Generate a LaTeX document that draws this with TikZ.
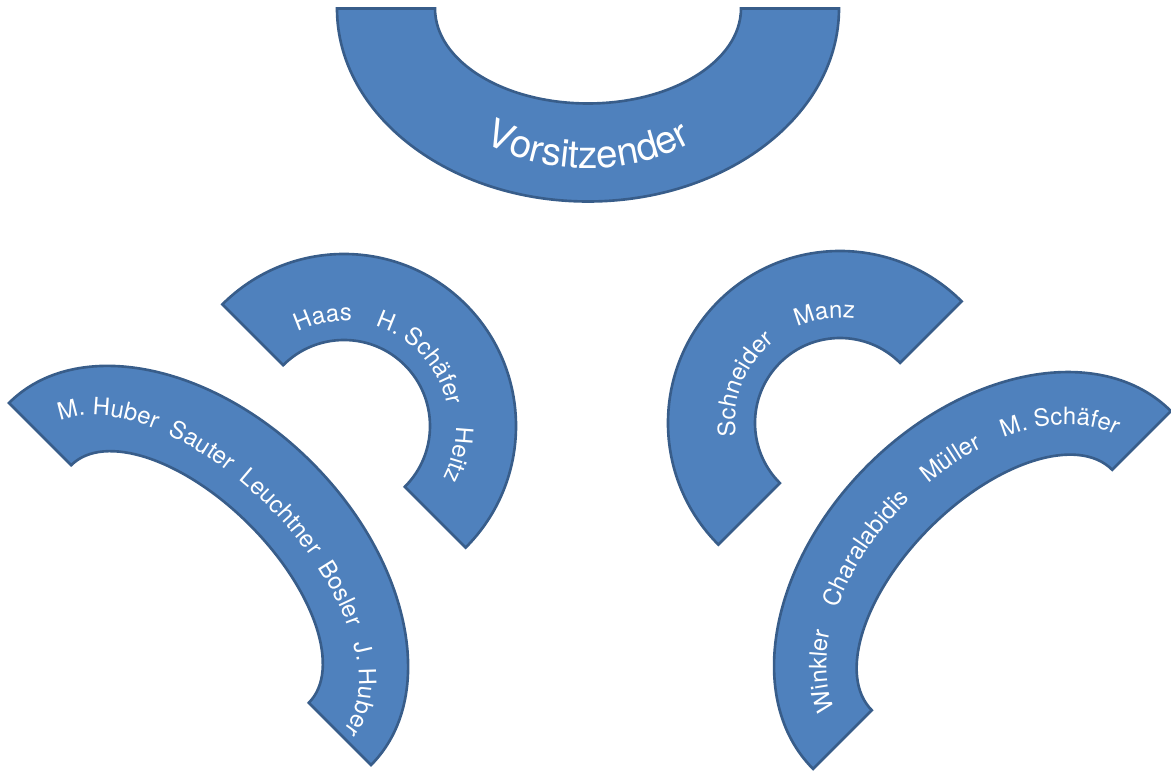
\documentclass[tikz,border=0pt]{standalone}
\usepackage{fontspec}
\setmainfont{TeX Gyre Heros}
\usetikzlibrary{decorations.text}
\definecolor{arcfill}{HTML}{4F81BD}
\definecolor{arcline}{HTML}{385D8A}
\newcommand\namefont{\fontsize{13.6pt}{16pt}\selectfont}
\newcommand\headfont{\fontsize{22pt}{26pt}\selectfont}

\begin{document}
\begin{tikzpicture}[x=0.02cm,y=0.02cm,
  blockarc/.style={fill=arcfill,draw=arcline,line width=1.5pt},
  names/.style={decorate,decoration={text along path,text align=center,text color=white,text={|\namefont|#1}}},
  title/.style={decorate,decoration={text along path,text align=center,text color=white,text={|\headfont|#1}}}]
  \useasboundingbox (0,0) rectangle (1171,774);

  % Vorsitzender
  \begin{scope}[shift={(588,765.5)}]
    \draw[blockarc] (180:251 and 193) arc[start angle=180,end angle=360,x radius=251,y radius=193]
      -- (0:153 and 95) arc[start angle=360,end angle=180,x radius=153,y radius=95] -- cycle;
    \path[title=Vorsitzender] (220:190 and 160) arc[start angle=220,end angle=320,x radius=190,y radius=160];
  \end{scope}

  % Haas, H. Schaefer, Heitz
  \begin{scope}[shift={(344,348)}]
    \draw[blockarc] (135:172) arc[start angle=135,end angle=-45,radius=172]
      -- (-45:86) arc[start angle=-45,end angle=135,radius=86] -- cycle;
    \path[names=Haas] (131:105) arc[start angle=131,end angle=71,radius=105];
    \path[names=H. Schäfer] (82:105) arc[start angle=82,end angle=2,radius=105];
    \path[names=Heitz] (16:112) arc[start angle=16,end angle=-44,radius=112];
  \end{scope}

  % Schneider, Manz
  \begin{scope}[shift={(840,351)}]
    \draw[blockarc] (225:172) arc[start angle=225,end angle=45,radius=172]
      -- (45:85) arc[start angle=45,end angle=225,radius=85] -- cycle;
    \path[names=Schneider] (198:105) arc[start angle=198,end angle=118,radius=105];
    \path[names=Manz] (128:105) arc[start angle=128,end angle=68,radius=105];
  \end{scope}

  % M. Huber ... J. Huber
  \begin{scope}[shift={(190,190)},rotate=-45]
    \draw[blockarc] (180:256 and 172) arc[start angle=180,end angle=0,x radius=256,y radius=172]
      -- (0:168 and 84) arc[start angle=0,end angle=180,x radius=168,y radius=84] -- cycle;
    \path[names=M. Huber] (183:212 and 110) arc[start angle=183,end angle=120,x radius=212,y radius=110];
    \path[names=Sauter] (147:212 and 110) arc[start angle=147,end angle=87,x radius=212,y radius=110];
    \path[names=Leuchtner] (116:212 and 110) arc[start angle=116,end angle=56,x radius=212,y radius=110];
    \path[names=Bosler] (85:212 and 110) arc[start angle=85,end angle=25,x radius=212,y radius=110];
    \path[names=J. Huber] (50:212 and 110) arc[start angle=50,end angle=-10,x radius=212,y radius=110];
  \end{scope}

  % Winkler ... M. Schaefer
  \begin{scope}[shift={(992,184)},rotate=45]
    \draw[blockarc] (180:253 and 176) arc[start angle=180,end angle=0,x radius=253,y radius=176]
      -- (0:170 and 88) arc[start angle=0,end angle=180,x radius=170,y radius=88] -- cycle;
    \path[names=Winkler] (187:200 and 122) arc[start angle=187,end angle=122,x radius=200,y radius=122];
    \path[names=Charalabidis] (141:200 and 122) arc[start angle=141,end angle=77,x radius=200,y radius=122];
    \path[names=Müller] (102:200 and 122) arc[start angle=102,end angle=38,x radius=200,y radius=122];
    \path[names=M. Schäfer] (63:200 and 122) arc[start angle=63,end angle=-2,x radius=200,y radius=122];
  \end{scope}
\end{tikzpicture}
\end{document}
